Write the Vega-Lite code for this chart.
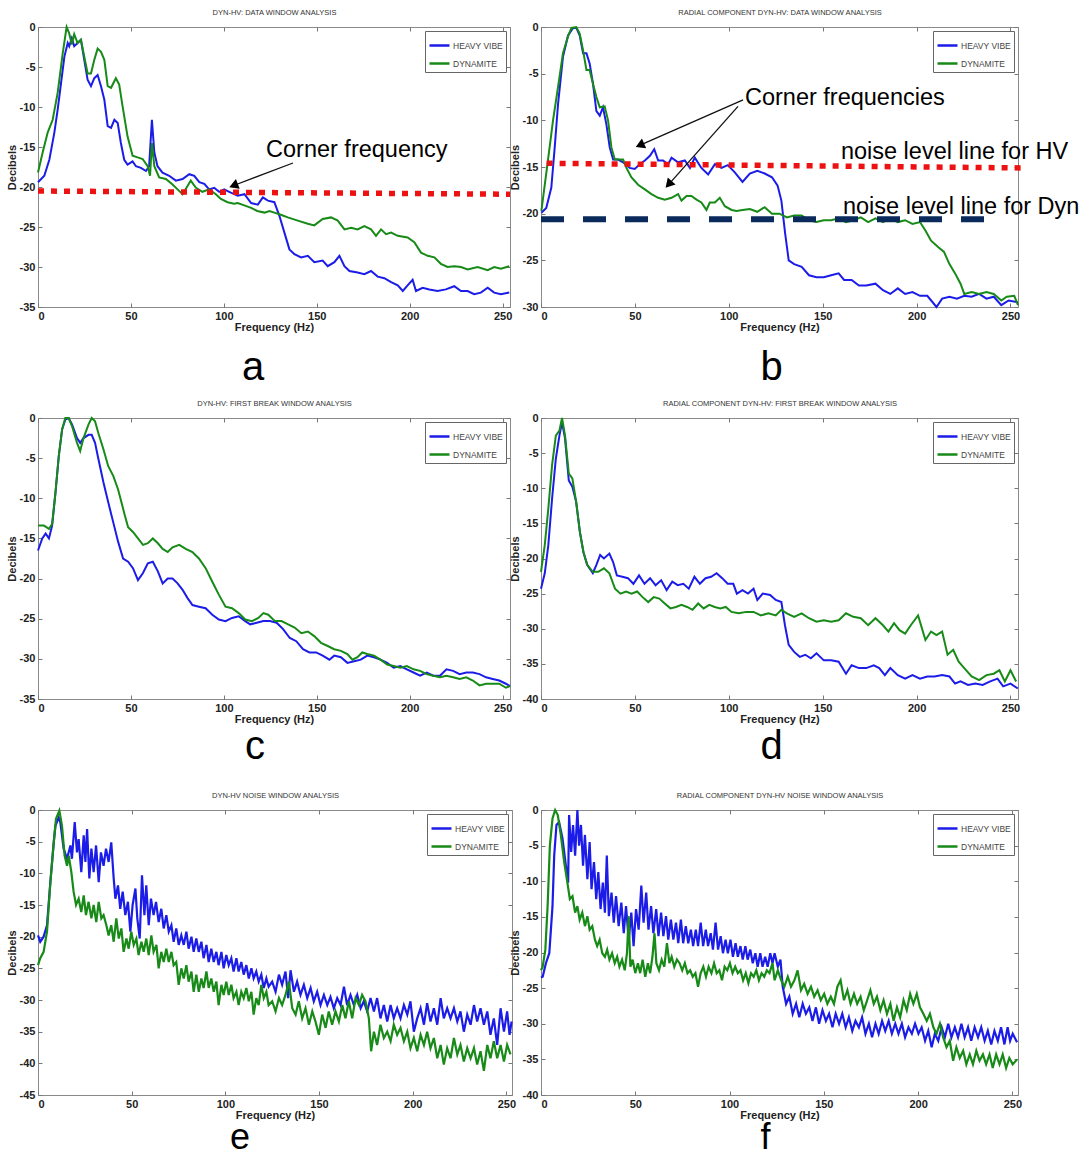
{
"$schema": "https://vega.github.io/schema/vega-lite/v6.json",
"background": "white",
"padding": {"left": 5, "top": 8, "right": 5, "bottom": 0},
"columns": 2,
"spacing": {"row": 111, "column": 29},
"bounds": "flush",
"resolve": {"scale": {"color": "independent"}, "legend": {"color": "independent"}},
"config": {
  "view": {"stroke": "#8a8a8a", "strokeWidth": 1},
  "font": "Liberation Sans",
  "axis": {"domain": false, "grid": false, "ticks": true, "tickSize": -4, "tickColor": "#777", "labelFont": "Liberation Sans", "labelFontSize": 11, "labelFontWeight": "bold", "labelColor": "#222", "labelPadding": 7, "titleFont": "Liberation Sans", "titleFontSize": 11, "titleFontWeight": "bold", "titleColor": "#222"},
  "axisBottom": {"titlePadding": 0},
  "axisLeft": {"titlePadding": 2},
  "axisTop": {"labels": false, "titleFontSize": 7.5, "titleFontWeight": "normal", "titleColor": "#333", "titlePadding": 10},
  "axisRight": {"labels": false},
  "legend": {"orient": "top-right", "offset": 4, "padding": 3, "strokeColor": "#666", "fillColor": "white", "symbolType": "stroke", "symbolSize": 400, "symbolStrokeWidth": 2.5, "labelFontSize": 8.5, "labelFont": "Liberation Sans", "labelColor": "#444", "rowPadding": 1, "labelOffset": 2},
  "title": {"font": "Liberation Sans", "fontSize": 40, "fontWeight": "normal", "color": "#000"}
},
"datasets": {
"a": [
{"s":"HV","f":0,"v":-19.4},{"s":"HV","f":3.4,"v":-18.6},{"s":"HV","f":6.1,"v":-16.6},{"s":"HV","f":8.8,"v":-13.2},{"s":"HV","f":10.6,"v":-10.3},{"s":"HV","f":12.4,"v":-7.0},{"s":"HV","f":14.2,"v":-3.7},{"s":"HV","f":16,"v":-2.0},{"s":"HV","f":16.8,"v":-2.4},{"s":"HV","f":18.2,"v":-1.4},{"s":"HV","f":19.5,"v":-2.4},{"s":"HV","f":21.3,"v":-2.0},{"s":"HV","f":23.1,"v":-1.6},{"s":"HV","f":24.9,"v":-4.1},{"s":"HV","f":26.7,"v":-6.6},{"s":"HV","f":28.5,"v":-7.4},{"s":"HV","f":30.3,"v":-6.4},{"s":"HV","f":32.1,"v":-6.0},{"s":"HV","f":33.9,"v":-7.4},{"s":"HV","f":35.7,"v":-9.1},{"s":"HV","f":37.5,"v":-12.4},{"s":"HV","f":39.3,"v":-12.6},{"s":"HV","f":41.1,"v":-11.6},{"s":"HV","f":42.9,"v":-12.0},{"s":"HV","f":44.6,"v":-14.5},{"s":"HV","f":46.4,"v":-16.6},{"s":"HV","f":48.2,"v":-17.2},{"s":"HV","f":50.9,"v":-16.8},{"s":"HV","f":52.7,"v":-17.4},{"s":"HV","f":55.4,"v":-17.6},{"s":"HV","f":58.1,"v":-18.0},{"s":"HV","f":59.8,"v":-17.4},{"s":"HV","f":61.3,"v":-11.6},{"s":"HV","f":62.6,"v":-15.7},{"s":"HV","f":64.3,"v":-17.4},{"s":"HV","f":67,"v":-18.2},{"s":"HV","f":70.6,"v":-18.6},{"s":"HV","f":74.2,"v":-19.2},{"s":"HV","f":77.8,"v":-19.0},{"s":"HV","f":81.4,"v":-18.4},{"s":"HV","f":84.1,"v":-18.6},{"s":"HV","f":86.8,"v":-19.4},{"s":"HV","f":89.5,"v":-19.6},{"s":"HV","f":92.1,"v":-20.3},{"s":"HV","f":94.8,"v":-20.1},{"s":"HV","f":97.5,"v":-20.6},{"s":"HV","f":100.2,"v":-20.3},{"s":"HV","f":102.9,"v":-20.6},{"s":"HV","f":107.5,"v":-21.1},{"s":"HV","f":111.1,"v":-20.9},{"s":"HV","f":114.7,"v":-22.0},{"s":"HV","f":118.3,"v":-22.2},{"s":"HV","f":121,"v":-21.3},{"s":"HV","f":123.7,"v":-21.7},{"s":"HV","f":127.2,"v":-21.9},{"s":"HV","f":129.9,"v":-23.6},{"s":"HV","f":132.6,"v":-25.7},{"s":"HV","f":135.3,"v":-27.8},{"s":"HV","f":138,"v":-28.4},{"s":"HV","f":141.6,"v":-28.8},{"s":"HV","f":145.2,"v":-28.6},{"s":"HV","f":148.7,"v":-29.4},{"s":"HV","f":153.2,"v":-29.2},{"s":"HV","f":155.9,"v":-29.9},{"s":"HV","f":159.5,"v":-29.4},{"s":"HV","f":162.2,"v":-28.6},{"s":"HV","f":164.9,"v":-29.9},{"s":"HV","f":167.6,"v":-30.5},{"s":"HV","f":172,"v":-30.7},{"s":"HV","f":175.6,"v":-30.9},{"s":"HV","f":179.2,"v":-30.5},{"s":"HV","f":182.8,"v":-31.2},{"s":"HV","f":186.4,"v":-31.4},{"s":"HV","f":190,"v":-31.9},{"s":"HV","f":193.6,"v":-32.3},{"s":"HV","f":196.3,"v":-33.0},{"s":"HV","f":198.9,"v":-32.3},{"s":"HV","f":201.6,"v":-31.6},{"s":"HV","f":203.4,"v":-33.0},{"s":"HV","f":207,"v":-32.6},{"s":"HV","f":210.6,"v":-32.8},{"s":"HV","f":215,"v":-33.0},{"s":"HV","f":219.5,"v":-32.8},{"s":"HV","f":224,"v":-32.4},{"s":"HV","f":227.6,"v":-33.0},{"s":"HV","f":231.2,"v":-33.0},{"s":"HV","f":234.7,"v":-33.4},{"s":"HV","f":238.3,"v":-33.2},{"s":"HV","f":242,"v":-32.6},{"s":"HV","f":245.5,"v":-33.2},{"s":"HV","f":249.1,"v":-33.4},{"s":"HV","f":253.6,"v":-33.2},
{"s":"DYN","f":0,"v":-18.2},{"s":"DYN","f":2.5,"v":-15.7},{"s":"DYN","f":5.2,"v":-13.2},{"s":"DYN","f":7.9,"v":-11.6},{"s":"DYN","f":10.6,"v":-8.2},{"s":"DYN","f":13.3,"v":-3.3},{"s":"DYN","f":15.4,"v":0},{"s":"DYN","f":16.8,"v":-0.8},{"s":"DYN","f":18.2,"v":-2.2},{"s":"DYN","f":19.5,"v":-0.9},{"s":"DYN","f":21.3,"v":-2.0},{"s":"DYN","f":23.1,"v":-1.6},{"s":"DYN","f":24.9,"v":-3.7},{"s":"DYN","f":26.7,"v":-5.8},{"s":"DYN","f":28.5,"v":-5.8},{"s":"DYN","f":30.3,"v":-4.1},{"s":"DYN","f":32.1,"v":-2.7},{"s":"DYN","f":33.9,"v":-3.1},{"s":"DYN","f":35.7,"v":-4.1},{"s":"DYN","f":37.5,"v":-7.4},{"s":"DYN","f":39.3,"v":-7.6},{"s":"DYN","f":41.9,"v":-6.4},{"s":"DYN","f":43.7,"v":-7.2},{"s":"DYN","f":45.5,"v":-9.9},{"s":"DYN","f":48.2,"v":-13.7},{"s":"DYN","f":50.9,"v":-16.1},{"s":"DYN","f":53.6,"v":-16.3},{"s":"DYN","f":56.3,"v":-16.5},{"s":"DYN","f":59,"v":-17.4},{"s":"DYN","f":60.3,"v":-18.6},{"s":"DYN","f":61.3,"v":-14.5},{"s":"DYN","f":62.6,"v":-17.4},{"s":"DYN","f":65.2,"v":-18.8},{"s":"DYN","f":68.8,"v":-19.0},{"s":"DYN","f":72.4,"v":-19.7},{"s":"DYN","f":75.1,"v":-20.3},{"s":"DYN","f":77.8,"v":-20.9},{"s":"DYN","f":80.4,"v":-19.9},{"s":"DYN","f":82.2,"v":-19.2},{"s":"DYN","f":85,"v":-20.1},{"s":"DYN","f":88.5,"v":-20.6},{"s":"DYN","f":92.1,"v":-20.3},{"s":"DYN","f":95.7,"v":-20.9},{"s":"DYN","f":98.4,"v":-21.5},{"s":"DYN","f":102,"v":-21.9},{"s":"DYN","f":105.5,"v":-22.1},{"s":"DYN","f":107.5,"v":-22.0},{"s":"DYN","f":111,"v":-22.3},{"s":"DYN","f":114.7,"v":-22.6},{"s":"DYN","f":118,"v":-23.0},{"s":"DYN","f":121.9,"v":-23.2},{"s":"DYN","f":124.5,"v":-23.0},{"s":"DYN","f":127.2,"v":-23.2},{"s":"DYN","f":131,"v":-23.5},{"s":"DYN","f":134.4,"v":-23.8},{"s":"DYN","f":139.8,"v":-24.2},{"s":"DYN","f":145.2,"v":-24.6},{"s":"DYN","f":148.7,"v":-24.8},{"s":"DYN","f":153.2,"v":-24.0},{"s":"DYN","f":157.7,"v":-23.8},{"s":"DYN","f":161.3,"v":-24.2},{"s":"DYN","f":164.9,"v":-25.3},{"s":"DYN","f":168.5,"v":-25.1},{"s":"DYN","f":172,"v":-25.3},{"s":"DYN","f":175.6,"v":-24.9},{"s":"DYN","f":179.2,"v":-25.3},{"s":"DYN","f":181.9,"v":-26.1},{"s":"DYN","f":184.6,"v":-25.3},{"s":"DYN","f":187.3,"v":-25.9},{"s":"DYN","f":190,"v":-25.7},{"s":"DYN","f":193.6,"v":-26.1},{"s":"DYN","f":198.9,"v":-26.3},{"s":"DYN","f":202.5,"v":-26.9},{"s":"DYN","f":206.1,"v":-28.2},{"s":"DYN","f":209.7,"v":-28.6},{"s":"DYN","f":213.3,"v":-28.8},{"s":"DYN","f":216.8,"v":-29.6},{"s":"DYN","f":220.4,"v":-30.0},{"s":"DYN","f":224,"v":-29.9},{"s":"DYN","f":227.6,"v":-30.0},{"s":"DYN","f":231.2,"v":-30.3},{"s":"DYN","f":236.6,"v":-30.0},{"s":"DYN","f":242,"v":-30.4},{"s":"DYN","f":245.5,"v":-30.0},{"s":"DYN","f":249.1,"v":-30.2},{"s":"DYN","f":253.6,"v":-29.9}
],
"b": [
{"s":"HV","f":0.2,"v":-19.9},{"s":"HV","f":2.8,"v":-19.4},{"s":"HV","f":5.5,"v":-17.2},{"s":"HV","f":7.3,"v":-12.9},{"s":"HV","f":9.1,"v":-8.2},{"s":"HV","f":11.7,"v":-3.2},{"s":"HV","f":14.4,"v":-0.9},{"s":"HV","f":17.1,"v":-0.1},{"s":"HV","f":18.8,"v":-0.1},{"s":"HV","f":20.6,"v":-0.9},{"s":"HV","f":22.4,"v":-2.8},{"s":"HV","f":24.2,"v":-2.8},{"s":"HV","f":25.9,"v":-3.9},{"s":"HV","f":27.7,"v":-6.1},{"s":"HV","f":29.5,"v":-9.0},{"s":"HV","f":31.3,"v":-9.5},{"s":"HV","f":33,"v":-8.6},{"s":"HV","f":34.8,"v":-10.4},{"s":"HV","f":36.6,"v":-12.9},{"s":"HV","f":38.4,"v":-14.2},{"s":"HV","f":41,"v":-14.2},{"s":"HV","f":43.7,"v":-14.5},{"s":"HV","f":47.2,"v":-15.1},{"s":"HV","f":49.9,"v":-15.2},{"s":"HV","f":52.6,"v":-14.7},{"s":"HV","f":55.3,"v":-14.3},{"s":"HV","f":58,"v":-13.8},{"s":"HV","f":60.3,"v":-13.1},{"s":"HV","f":62.4,"v":-14.3},{"s":"HV","f":65,"v":-14.3},{"s":"HV","f":67.7,"v":-14.7},{"s":"HV","f":69.5,"v":-14.0},{"s":"HV","f":73,"v":-14.5},{"s":"HV","f":76.6,"v":-14.3},{"s":"HV","f":79.3,"v":-15.1},{"s":"HV","f":81.9,"v":-14.0},{"s":"HV","f":85.4,"v":-15.1},{"s":"HV","f":89,"v":-15.8},{"s":"HV","f":92.6,"v":-14.7},{"s":"HV","f":96.1,"v":-15.1},{"s":"HV","f":99.5,"v":-14.8},{"s":"HV","f":103.3,"v":-15.6},{"s":"HV","f":107.3,"v":-16.6},{"s":"HV","f":111.2,"v":-15.7},{"s":"HV","f":115.2,"v":-15.4},{"s":"HV","f":119.1,"v":-15.7},{"s":"HV","f":123,"v":-16.1},{"s":"HV","f":126,"v":-17.0},{"s":"HV","f":128,"v":-18.6},{"s":"HV","f":130,"v":-22.1},{"s":"HV","f":131.9,"v":-25.0},{"s":"HV","f":134.8,"v":-25.4},{"s":"HV","f":138.8,"v":-25.7},{"s":"HV","f":142.7,"v":-26.6},{"s":"HV","f":146.7,"v":-26.8},{"s":"HV","f":150.6,"v":-26.8},{"s":"HV","f":154.5,"v":-26.6},{"s":"HV","f":158.5,"v":-26.4},{"s":"HV","f":161.4,"v":-27.1},{"s":"HV","f":165.4,"v":-27.1},{"s":"HV","f":169.3,"v":-27.7},{"s":"HV","f":173.2,"v":-27.7},{"s":"HV","f":178.1,"v":-27.5},{"s":"HV","f":182.1,"v":-28.2},{"s":"HV","f":186,"v":-28.6},{"s":"HV","f":190,"v":-28.0},{"s":"HV","f":193.9,"v":-28.6},{"s":"HV","f":197.8,"v":-28.4},{"s":"HV","f":201.8,"v":-28.8},{"s":"HV","f":205.7,"v":-28.8},{"s":"HV","f":210.6,"v":-30.0},{"s":"HV","f":213.6,"v":-29.1},{"s":"HV","f":217.5,"v":-28.9},{"s":"HV","f":221.5,"v":-29.1},{"s":"HV","f":225.4,"v":-28.8},{"s":"HV","f":229.3,"v":-28.9},{"s":"HV","f":233.3,"v":-28.6},{"s":"HV","f":237.2,"v":-29.1},{"s":"HV","f":241.1,"v":-28.9},{"s":"HV","f":245.1,"v":-29.8},{"s":"HV","f":249,"v":-29.3},{"s":"HV","f":254,"v":-29.5},
{"s":"DYN","f":0.2,"v":-19.7},{"s":"DYN","f":3.7,"v":-14.3},{"s":"DYN","f":6.4,"v":-10.0},{"s":"DYN","f":9.1,"v":-6.4},{"s":"DYN","f":11.7,"v":-2.8},{"s":"DYN","f":14.4,"v":-1.0},{"s":"DYN","f":16.2,"v":-0.1},{"s":"DYN","f":18.8,"v":0},{"s":"DYN","f":20.6,"v":-0.7},{"s":"DYN","f":22.4,"v":-2.5},{"s":"DYN","f":24.2,"v":-4.6},{"s":"DYN","f":25.9,"v":-4.6},{"s":"DYN","f":27.7,"v":-6.1},{"s":"DYN","f":29.5,"v":-7.5},{"s":"DYN","f":31.3,"v":-8.6},{"s":"DYN","f":33.9,"v":-8.5},{"s":"DYN","f":35.7,"v":-10.0},{"s":"DYN","f":37.5,"v":-12.9},{"s":"DYN","f":39.3,"v":-14.2},{"s":"DYN","f":41.9,"v":-14.2},{"s":"DYN","f":43.7,"v":-14.2},{"s":"DYN","f":45.5,"v":-15.1},{"s":"DYN","f":48.1,"v":-16.1},{"s":"DYN","f":51.7,"v":-16.9},{"s":"DYN","f":55.3,"v":-17.4},{"s":"DYN","f":58.8,"v":-17.9},{"s":"DYN","f":62.4,"v":-18.3},{"s":"DYN","f":65.9,"v":-18.5},{"s":"DYN","f":69.5,"v":-18.3},{"s":"DYN","f":73,"v":-17.9},{"s":"DYN","f":74.8,"v":-18.6},{"s":"DYN","f":77.5,"v":-18.1},{"s":"DYN","f":80.1,"v":-18.1},{"s":"DYN","f":82.8,"v":-18.5},{"s":"DYN","f":85.4,"v":-18.8},{"s":"DYN","f":88.1,"v":-19.6},{"s":"DYN","f":89.9,"v":-18.8},{"s":"DYN","f":92.6,"v":-18.8},{"s":"DYN","f":95.2,"v":-18.3},{"s":"DYN","f":97.9,"v":-19.2},{"s":"DYN","f":101.5,"v":-19.6},{"s":"DYN","f":104.1,"v":-19.7},{"s":"DYN","f":107.3,"v":-19.6},{"s":"DYN","f":111.2,"v":-19.5},{"s":"DYN","f":115.2,"v":-19.8},{"s":"DYN","f":119.1,"v":-19.3},{"s":"DYN","f":123,"v":-20.0},{"s":"DYN","f":127,"v":-20.0},{"s":"DYN","f":130.9,"v":-20.4},{"s":"DYN","f":134.8,"v":-20.2},{"s":"DYN","f":138.8,"v":-20.2},{"s":"DYN","f":142.7,"v":-20.7},{"s":"DYN","f":146.7,"v":-20.9},{"s":"DYN","f":150.6,"v":-20.7},{"s":"DYN","f":154.5,"v":-20.7},{"s":"DYN","f":158.5,"v":-20.5},{"s":"DYN","f":162.4,"v":-20.9},{"s":"DYN","f":166.3,"v":-20.7},{"s":"DYN","f":170.3,"v":-20.4},{"s":"DYN","f":174.2,"v":-20.9},{"s":"DYN","f":178.1,"v":-20.5},{"s":"DYN","f":182.1,"v":-20.9},{"s":"DYN","f":186,"v":-20.5},{"s":"DYN","f":190,"v":-20.9},{"s":"DYN","f":193.9,"v":-20.7},{"s":"DYN","f":197.8,"v":-21.1},{"s":"DYN","f":201.8,"v":-20.9},{"s":"DYN","f":204.7,"v":-21.8},{"s":"DYN","f":207.7,"v":-22.9},{"s":"DYN","f":211.6,"v":-23.6},{"s":"DYN","f":214.6,"v":-24.1},{"s":"DYN","f":217.5,"v":-25.4},{"s":"DYN","f":220.5,"v":-26.4},{"s":"DYN","f":223.4,"v":-27.5},{"s":"DYN","f":225.4,"v":-28.6},{"s":"DYN","f":229.3,"v":-28.4},{"s":"DYN","f":233.3,"v":-28.6},{"s":"DYN","f":237.2,"v":-28.4},{"s":"DYN","f":241.1,"v":-28.6},{"s":"DYN","f":245.1,"v":-29.3},{"s":"DYN","f":248,"v":-28.9},{"s":"DYN","f":252,"v":-28.8},{"s":"DYN","f":254,"v":-29.8}
],
"c": [
{"s":"HV","f":0,"v":-16.5},{"s":"HV","f":2.3,"v":-15.0},{"s":"HV","f":4.1,"v":-14.4},{"s":"HV","f":5.9,"v":-15.0},{"s":"HV","f":7.6,"v":-13.4},{"s":"HV","f":9.4,"v":-9.3},{"s":"HV","f":11.2,"v":-4.7},{"s":"HV","f":13,"v":-1.4},{"s":"HV","f":14.7,"v":-0.2},{"s":"HV","f":16.5,"v":0},{"s":"HV","f":18.3,"v":-0.8},{"s":"HV","f":21,"v":-2.5},{"s":"HV","f":22.7,"v":-3.1},{"s":"HV","f":24.5,"v":-2.5},{"s":"HV","f":27.2,"v":-2.1},{"s":"HV","f":28.9,"v":-2.1},{"s":"HV","f":30.7,"v":-3.1},{"s":"HV","f":32.5,"v":-5.1},{"s":"HV","f":35.2,"v":-8.0},{"s":"HV","f":37.8,"v":-10.5},{"s":"HV","f":40.5,"v":-13.0},{"s":"HV","f":43.1,"v":-15.4},{"s":"HV","f":45.8,"v":-17.5},{"s":"HV","f":48.5,"v":-17.9},{"s":"HV","f":51.1,"v":-18.7},{"s":"HV","f":53.8,"v":-20.2},{"s":"HV","f":56.5,"v":-19.3},{"s":"HV","f":59.1,"v":-18.1},{"s":"HV","f":61.8,"v":-17.9},{"s":"HV","f":64.5,"v":-19.1},{"s":"HV","f":67.1,"v":-20.6},{"s":"HV","f":69.8,"v":-20.0},{"s":"HV","f":72.4,"v":-20.0},{"s":"HV","f":75.1,"v":-20.6},{"s":"HV","f":77.8,"v":-21.4},{"s":"HV","f":80.4,"v":-22.4},{"s":"HV","f":83.1,"v":-23.3},{"s":"HV","f":86.6,"v":-23.5},{"s":"HV","f":90.2,"v":-23.7},{"s":"HV","f":93.8,"v":-24.5},{"s":"HV","f":97.3,"v":-25.1},{"s":"HV","f":100.9,"v":-25.3},{"s":"HV","f":104.4,"v":-24.9},{"s":"HV","f":108,"v":-24.7},{"s":"HV","f":111.5,"v":-25.3},{"s":"HV","f":114.2,"v":-25.7},{"s":"HV","f":117.7,"v":-25.5},{"s":"HV","f":121.3,"v":-25.3},{"s":"HV","f":124.8,"v":-25.3},{"s":"HV","f":128.4,"v":-25.5},{"s":"HV","f":131.9,"v":-26.3},{"s":"HV","f":135.5,"v":-27.4},{"s":"HV","f":139,"v":-27.8},{"s":"HV","f":142.6,"v":-28.8},{"s":"HV","f":146.1,"v":-29.2},{"s":"HV","f":149.7,"v":-29.2},{"s":"HV","f":153.2,"v":-29.6},{"s":"HV","f":156.8,"v":-30.1},{"s":"HV","f":159.4,"v":-29.6},{"s":"HV","f":163,"v":-29.8},{"s":"HV","f":166.5,"v":-30.5},{"s":"HV","f":170.1,"v":-30.3},{"s":"HV","f":173.7,"v":-30.1},{"s":"HV","f":177.2,"v":-29.6},{"s":"HV","f":180.8,"v":-29.8},{"s":"HV","f":184.3,"v":-30.1},{"s":"HV","f":187.9,"v":-30.5},{"s":"HV","f":191.4,"v":-31.1},{"s":"HV","f":195,"v":-30.9},{"s":"HV","f":198.5,"v":-31.3},{"s":"HV","f":202.1,"v":-31.7},{"s":"HV","f":205.6,"v":-32.1},{"s":"HV","f":209.2,"v":-31.7},{"s":"HV","f":212.7,"v":-32.1},{"s":"HV","f":216.3,"v":-32.1},{"s":"HV","f":219.8,"v":-31.3},{"s":"HV","f":223.4,"v":-31.5},{"s":"HV","f":226.9,"v":-31.9},{"s":"HV","f":230.5,"v":-31.7},{"s":"HV","f":234,"v":-31.7},{"s":"HV","f":237.6,"v":-31.9},{"s":"HV","f":241.1,"v":-32.3},{"s":"HV","f":244.7,"v":-32.5},{"s":"HV","f":248.2,"v":-32.7},{"s":"HV","f":251.8,"v":-33.1},{"s":"HV","f":254,"v":-33.4},
{"s":"DYN","f":0,"v":-13.4},{"s":"DYN","f":3.2,"v":-13.4},{"s":"DYN","f":5.9,"v":-13.8},{"s":"DYN","f":7.6,"v":-13.2},{"s":"DYN","f":9.4,"v":-9.3},{"s":"DYN","f":11.2,"v":-4.7},{"s":"DYN","f":13,"v":-1.4},{"s":"DYN","f":14.7,"v":0},{"s":"DYN","f":16.5,"v":0},{"s":"DYN","f":18.3,"v":-1.0},{"s":"DYN","f":21,"v":-3.1},{"s":"DYN","f":22.7,"v":-4.1},{"s":"DYN","f":24.5,"v":-2.5},{"s":"DYN","f":27.2,"v":-0.8},{"s":"DYN","f":28.9,"v":0},{"s":"DYN","f":30.7,"v":-0.4},{"s":"DYN","f":32.5,"v":-1.9},{"s":"DYN","f":35.2,"v":-3.9},{"s":"DYN","f":37.8,"v":-6.0},{"s":"DYN","f":40.5,"v":-7.2},{"s":"DYN","f":43.1,"v":-8.9},{"s":"DYN","f":44.9,"v":-10.5},{"s":"DYN","f":46.7,"v":-12.1},{"s":"DYN","f":48.5,"v":-13.6},{"s":"DYN","f":51.1,"v":-14.2},{"s":"DYN","f":53.8,"v":-15.0},{"s":"DYN","f":56.5,"v":-15.8},{"s":"DYN","f":59.1,"v":-15.6},{"s":"DYN","f":61.8,"v":-15.0},{"s":"DYN","f":64.5,"v":-15.6},{"s":"DYN","f":67.1,"v":-16.3},{"s":"DYN","f":69.8,"v":-16.7},{"s":"DYN","f":72.4,"v":-16.1},{"s":"DYN","f":76,"v":-15.8},{"s":"DYN","f":79.5,"v":-16.3},{"s":"DYN","f":83.1,"v":-16.7},{"s":"DYN","f":86.6,"v":-17.5},{"s":"DYN","f":90.2,"v":-18.7},{"s":"DYN","f":93.8,"v":-20.4},{"s":"DYN","f":97.3,"v":-22.0},{"s":"DYN","f":100.9,"v":-23.5},{"s":"DYN","f":104.4,"v":-23.7},{"s":"DYN","f":108,"v":-24.3},{"s":"DYN","f":111.5,"v":-25.1},{"s":"DYN","f":115.1,"v":-25.3},{"s":"DYN","f":118.6,"v":-24.9},{"s":"DYN","f":121.3,"v":-24.3},{"s":"DYN","f":123.9,"v":-24.5},{"s":"DYN","f":127.5,"v":-25.3},{"s":"DYN","f":131,"v":-25.3},{"s":"DYN","f":134.6,"v":-25.7},{"s":"DYN","f":138.1,"v":-26.1},{"s":"DYN","f":141.7,"v":-26.8},{"s":"DYN","f":145.2,"v":-26.6},{"s":"DYN","f":148.8,"v":-27.2},{"s":"DYN","f":152.3,"v":-28.0},{"s":"DYN","f":155.9,"v":-28.4},{"s":"DYN","f":159.4,"v":-28.8},{"s":"DYN","f":163,"v":-29.0},{"s":"DYN","f":166.5,"v":-29.4},{"s":"DYN","f":169.2,"v":-30.1},{"s":"DYN","f":171.9,"v":-29.8},{"s":"DYN","f":174.5,"v":-29.2},{"s":"DYN","f":177.2,"v":-29.4},{"s":"DYN","f":180.8,"v":-29.6},{"s":"DYN","f":184.3,"v":-30.1},{"s":"DYN","f":187.9,"v":-30.7},{"s":"DYN","f":191.4,"v":-30.9},{"s":"DYN","f":195,"v":-31.1},{"s":"DYN","f":198.5,"v":-30.9},{"s":"DYN","f":202.1,"v":-31.3},{"s":"DYN","f":205.6,"v":-31.5},{"s":"DYN","f":209.2,"v":-31.9},{"s":"DYN","f":212.7,"v":-32.1},{"s":"DYN","f":216.3,"v":-32.3},{"s":"DYN","f":219.8,"v":-32.1},{"s":"DYN","f":223.4,"v":-32.3},{"s":"DYN","f":226.9,"v":-32.5},{"s":"DYN","f":230.5,"v":-32.3},{"s":"DYN","f":234,"v":-32.7},{"s":"DYN","f":237.6,"v":-33.3},{"s":"DYN","f":241.1,"v":-33.1},{"s":"DYN","f":244.7,"v":-33.1},{"s":"DYN","f":248.2,"v":-33.1},{"s":"DYN","f":251.8,"v":-33.6},{"s":"DYN","f":254,"v":-33.4}
],
"d": [
{"s":"HV","f":0,"v":-24.3},{"s":"HV","f":2,"v":-22.1},{"s":"HV","f":3.9,"v":-18.1},{"s":"HV","f":5.9,"v":-11.5},{"s":"HV","f":7.9,"v":-5.8},{"s":"HV","f":9.8,"v":-2.5},{"s":"HV","f":11.2,"v":-0.6},{"s":"HV","f":12.8,"v":-2.9},{"s":"HV","f":14.8,"v":-8.9},{"s":"HV","f":16.7,"v":-9.8},{"s":"HV","f":18.7,"v":-11.9},{"s":"HV","f":20.7,"v":-16.2},{"s":"HV","f":22.6,"v":-19.1},{"s":"HV","f":24.6,"v":-20.9},{"s":"HV","f":27.6,"v":-22.1},{"s":"HV","f":29.5,"v":-20.9},{"s":"HV","f":31.5,"v":-19.5},{"s":"HV","f":33.5,"v":-20.0},{"s":"HV","f":36.4,"v":-19.3},{"s":"HV","f":38.4,"v":-20.5},{"s":"HV","f":40.4,"v":-22.4},{"s":"HV","f":43.3,"v":-22.6},{"s":"HV","f":46.3,"v":-22.8},{"s":"HV","f":49.2,"v":-23.6},{"s":"HV","f":52.2,"v":-22.4},{"s":"HV","f":55.1,"v":-23.6},{"s":"HV","f":58.1,"v":-22.8},{"s":"HV","f":61,"v":-23.8},{"s":"HV","f":64,"v":-23.1},{"s":"HV","f":66.9,"v":-24.5},{"s":"HV","f":69.9,"v":-23.3},{"s":"HV","f":72.8,"v":-23.8},{"s":"HV","f":75.8,"v":-23.6},{"s":"HV","f":78.7,"v":-24.3},{"s":"HV","f":81.7,"v":-22.6},{"s":"HV","f":84.6,"v":-23.6},{"s":"HV","f":87.6,"v":-22.8},{"s":"HV","f":90.6,"v":-22.6},{"s":"HV","f":93.5,"v":-22.1},{"s":"HV","f":96.5,"v":-22.8},{"s":"HV","f":99.4,"v":-23.6},{"s":"HV","f":102.4,"v":-23.6},{"s":"HV","f":104.3,"v":-25.0},{"s":"HV","f":107.3,"v":-24.5},{"s":"HV","f":110.2,"v":-25.0},{"s":"HV","f":113.2,"v":-24.3},{"s":"HV","f":115.2,"v":-25.9},{"s":"HV","f":118.1,"v":-25.0},{"s":"HV","f":122,"v":-25.2},{"s":"HV","f":125,"v":-25.9},{"s":"HV","f":128,"v":-26.2},{"s":"HV","f":129.9,"v":-29.5},{"s":"HV","f":131.9,"v":-32.3},{"s":"HV","f":134.8,"v":-33.3},{"s":"HV","f":137.8,"v":-34.0},{"s":"HV","f":140.7,"v":-33.7},{"s":"HV","f":143.7,"v":-34.2},{"s":"HV","f":146.7,"v":-33.5},{"s":"HV","f":150.6,"v":-34.5},{"s":"HV","f":154.5,"v":-34.5},{"s":"HV","f":158.5,"v":-34.7},{"s":"HV","f":162.4,"v":-36.4},{"s":"HV","f":165.4,"v":-35.2},{"s":"HV","f":169.3,"v":-35.6},{"s":"HV","f":173.2,"v":-35.6},{"s":"HV","f":177.2,"v":-35.2},{"s":"HV","f":180.1,"v":-35.6},{"s":"HV","f":183.1,"v":-36.6},{"s":"HV","f":186,"v":-35.6},{"s":"HV","f":190,"v":-36.6},{"s":"HV","f":193.9,"v":-37.1},{"s":"HV","f":197.8,"v":-36.6},{"s":"HV","f":201.8,"v":-37.1},{"s":"HV","f":205.7,"v":-36.8},{"s":"HV","f":209.6,"v":-36.8},{"s":"HV","f":213.6,"v":-36.6},{"s":"HV","f":217.5,"v":-36.8},{"s":"HV","f":220.5,"v":-37.8},{"s":"HV","f":223.4,"v":-37.5},{"s":"HV","f":227.4,"v":-38.0},{"s":"HV","f":231.3,"v":-37.8},{"s":"HV","f":235.2,"v":-38.0},{"s":"HV","f":239.2,"v":-37.5},{"s":"HV","f":243.1,"v":-37.1},{"s":"HV","f":246.1,"v":-38.2},{"s":"HV","f":250,"v":-37.8},{"s":"HV","f":253.9,"v":-38.5},
{"s":"DYN","f":0,"v":-21.9},{"s":"DYN","f":2,"v":-18.1},{"s":"DYN","f":3.9,"v":-12.9},{"s":"DYN","f":5.9,"v":-6.7},{"s":"DYN","f":7.9,"v":-2.5},{"s":"DYN","f":9.8,"v":-1.8},{"s":"DYN","f":11.2,"v":0},{"s":"DYN","f":12.8,"v":-2.5},{"s":"DYN","f":14.8,"v":-7.9},{"s":"DYN","f":16.7,"v":-8.6},{"s":"DYN","f":18.7,"v":-11.9},{"s":"DYN","f":20.7,"v":-16.2},{"s":"DYN","f":22.6,"v":-19.1},{"s":"DYN","f":24.6,"v":-20.9},{"s":"DYN","f":27.6,"v":-21.9},{"s":"DYN","f":30.5,"v":-21.9},{"s":"DYN","f":33.5,"v":-21.4},{"s":"DYN","f":36.4,"v":-22.1},{"s":"DYN","f":39.4,"v":-24.3},{"s":"DYN","f":42.3,"v":-25.0},{"s":"DYN","f":45.3,"v":-24.7},{"s":"DYN","f":48.2,"v":-25.0},{"s":"DYN","f":51.2,"v":-24.7},{"s":"DYN","f":54.1,"v":-25.5},{"s":"DYN","f":57.1,"v":-26.2},{"s":"DYN","f":60,"v":-25.5},{"s":"DYN","f":63,"v":-25.7},{"s":"DYN","f":65.9,"v":-26.4},{"s":"DYN","f":68.9,"v":-27.1},{"s":"DYN","f":71.9,"v":-26.9},{"s":"DYN","f":74.8,"v":-26.6},{"s":"DYN","f":77.8,"v":-26.9},{"s":"DYN","f":80.7,"v":-27.3},{"s":"DYN","f":83.7,"v":-26.4},{"s":"DYN","f":86.6,"v":-27.1},{"s":"DYN","f":89.6,"v":-26.6},{"s":"DYN","f":92.5,"v":-26.9},{"s":"DYN","f":95.5,"v":-27.1},{"s":"DYN","f":98.4,"v":-26.9},{"s":"DYN","f":101.4,"v":-27.6},{"s":"DYN","f":105.3,"v":-27.8},{"s":"DYN","f":109.3,"v":-27.6},{"s":"DYN","f":113.2,"v":-27.6},{"s":"DYN","f":117.1,"v":-28.1},{"s":"DYN","f":121.1,"v":-27.8},{"s":"DYN","f":125,"v":-28.1},{"s":"DYN","f":128,"v":-27.3},{"s":"DYN","f":130.9,"v":-27.8},{"s":"DYN","f":134.8,"v":-28.3},{"s":"DYN","f":138.8,"v":-27.8},{"s":"DYN","f":142.7,"v":-28.5},{"s":"DYN","f":146.7,"v":-29.0},{"s":"DYN","f":150.6,"v":-28.8},{"s":"DYN","f":154.5,"v":-29.0},{"s":"DYN","f":158.5,"v":-28.8},{"s":"DYN","f":162.4,"v":-27.8},{"s":"DYN","f":166.3,"v":-28.3},{"s":"DYN","f":170.3,"v":-28.5},{"s":"DYN","f":174.2,"v":-29.5},{"s":"DYN","f":178.1,"v":-28.5},{"s":"DYN","f":182.1,"v":-29.5},{"s":"DYN","f":185,"v":-30.4},{"s":"DYN","f":188,"v":-29.2},{"s":"DYN","f":190.9,"v":-30.2},{"s":"DYN","f":193.9,"v":-30.7},{"s":"DYN","f":196.9,"v":-29.5},{"s":"DYN","f":200.8,"v":-28.1},{"s":"DYN","f":204.7,"v":-31.6},{"s":"DYN","f":207.7,"v":-30.4},{"s":"DYN","f":210.6,"v":-30.9},{"s":"DYN","f":213.6,"v":-30.4},{"s":"DYN","f":216.5,"v":-33.7},{"s":"DYN","f":219.5,"v":-33.0},{"s":"DYN","f":222.4,"v":-34.7},{"s":"DYN","f":225.4,"v":-35.6},{"s":"DYN","f":229.3,"v":-36.8},{"s":"DYN","f":233.3,"v":-37.3},{"s":"DYN","f":237.2,"v":-36.6},{"s":"DYN","f":241.1,"v":-36.4},{"s":"DYN","f":244.1,"v":-35.9},{"s":"DYN","f":247,"v":-37.5},{"s":"DYN","f":250,"v":-35.9},{"s":"DYN","f":253,"v":-37.5}
],
"e": [
{"s":"HV","f":0,"v":-19.8},{"s":"HV","f":1.2,"v":-20.8},{"s":"HV","f":3,"v":-20},{"s":"HV","f":4.8,"v":-18.2},{"s":"HV","f":6.6,"v":-11.4},{"s":"HV","f":8.4,"v":-5.1},{"s":"HV","f":9.3,"v":-2.5},{"s":"HV","f":11,"v":-1.2},{"s":"HV","f":11.9,"v":-1.9},{"s":"HV","f":13.7,"v":-6.1},{"s":"HV","f":15.5,"v":-7.7},{"s":"HV","f":17.3,"v":-5.6},{"s":"HV","f":18.1,"v":-7.7},{"s":"HV","f":19.6,"v":-1.9},{"s":"HV","f":20.8,"v":-6.7},{"s":"HV","f":21.7,"v":-4.6},{"s":"HV","f":23.1,"v":-9.8},{"s":"HV","f":24.4,"v":-4.0},{"s":"HV","f":25.3,"v":-8.2},{"s":"HV","f":26.2,"v":-3.0},{"s":"HV","f":27.4,"v":-10.8},{"s":"HV","f":28.5,"v":-6.1},{"s":"HV","f":29.7,"v":-9.8},{"s":"HV","f":31,"v":-5.6},{"s":"HV","f":32.4,"v":-11.4},{"s":"HV","f":33.6,"v":-6.7},{"s":"HV","f":35,"v":-8.8},{"s":"HV","f":36.3,"v":-6.1},{"s":"HV","f":37.7,"v":-8.2},{"s":"HV","f":39.1,"v":-5.1},{"s":"HV","f":40.4,"v":-10.8},{"s":"HV","f":41.3,"v":-14.0},{"s":"HV","f":42.7,"v":-11.9},{"s":"HV","f":43.9,"v":-15.6},{"s":"HV","f":45.2,"v":-12.9},{"s":"HV","f":46.6,"v":-16.6},{"s":"HV","f":48,"v":-14.5},{"s":"HV","f":49.3,"v":-19.2},{"s":"HV","f":50.5,"v":-15.0},{"s":"HV","f":52,"v":-12.4},{"s":"HV","f":53,"v":-17.1},{"s":"HV","f":54.3,"v":-20.3},{"s":"HV","f":55.5,"v":-10.3},{"s":"HV","f":56.8,"v":-16.6},{"s":"HV","f":57.8,"v":-11.9},{"s":"HV","f":59.1,"v":-18.2},{"s":"HV","f":60.3,"v":-14.0},{"s":"HV","f":61.7,"v":-16.6},{"s":"HV","f":63,"v":-14.5},{"s":"HV","f":64.4,"v":-17.7},{"s":"HV","f":65.8,"v":-15.6},{"s":"HV","f":67.1,"v":-18.7},{"s":"HV","f":68.5,"v":-16.6},{"s":"HV","f":69.8,"v":-19.2},{"s":"HV","f":71.2,"v":-18.2},{"s":"HV","f":72.4,"v":-20.8},{"s":"HV","f":73.8,"v":-18.7},{"s":"HV","f":75.1,"v":-21.3},{"s":"HV","f":76.5,"v":-19.8},{"s":"HV","f":77.8,"v":-21.3},{"s":"HV","f":79.2,"v":-19.2},{"s":"HV","f":80.4,"v":-21.9},{"s":"HV","f":81.9,"v":-20.0},{"s":"HV","f":83.1,"v":-22.4},{"s":"HV","f":84.5,"v":-20.3},{"s":"HV","f":85.8,"v":-22.4},{"s":"HV","f":87.2,"v":-20.8},{"s":"HV","f":88.4,"v":-23.4},{"s":"HV","f":89.9,"v":-21.3},{"s":"HV","f":91.1,"v":-24.0},{"s":"HV","f":92.5,"v":-21.9},{"s":"HV","f":93.8,"v":-24.0},{"s":"HV","f":95.2,"v":-22.4},{"s":"HV","f":96.4,"v":-24.5},{"s":"HV","f":97.9,"v":-22.4},{"s":"HV","f":99.1,"v":-25.0},{"s":"HV","f":100.5,"v":-22.9},{"s":"HV","f":101.8,"v":-24.5},{"s":"HV","f":103.2,"v":-23.4},{"s":"HV","f":104.4,"v":-25.5},{"s":"HV","f":105.9,"v":-23.4},{"s":"HV","f":107.1,"v":-25.5},{"s":"HV","f":108.5,"v":-24.0},{"s":"HV","f":109.8,"v":-26.0},{"s":"HV","f":111.2,"v":-24.5},{"s":"HV","f":112.5,"v":-26.6},{"s":"HV","f":113.9,"v":-25.0},{"s":"HV","f":115.1,"v":-26.6},{"s":"HV","f":116.5,"v":-25.5},{"s":"HV","f":117.8,"v":-27.1},{"s":"HV","f":119.2,"v":-26.0},{"s":"HV","f":120.5,"v":-28.1},{"s":"HV","f":121.9,"v":-26.6},{"s":"HV","f":123.1,"v":-27.9},{"s":"HV","f":125,"v":-27.1},{"s":"HV","f":126.8,"v":-28.7},{"s":"HV","f":128.6,"v":-26.0},{"s":"HV","f":130.3,"v":-27.6},{"s":"HV","f":132.1,"v":-25.5},{"s":"HV","f":133.5,"v":-29.7},{"s":"HV","f":134.8,"v":-25.3},{"s":"HV","f":136.6,"v":-28.7},{"s":"HV","f":138.3,"v":-27.1},{"s":"HV","f":140.1,"v":-29.2},{"s":"HV","f":141.9,"v":-27.6},{"s":"HV","f":143.7,"v":-29.7},{"s":"HV","f":145.5,"v":-28.1},{"s":"HV","f":147.2,"v":-30.2},{"s":"HV","f":149,"v":-28.7},{"s":"HV","f":150.8,"v":-30.8},{"s":"HV","f":152.6,"v":-29.2},{"s":"HV","f":154.4,"v":-30.8},{"s":"HV","f":156.1,"v":-29.5},{"s":"HV","f":157.9,"v":-31.3},{"s":"HV","f":159.7,"v":-29.7},{"s":"HV","f":161.5,"v":-30.8},{"s":"HV","f":163.3,"v":-27.9},{"s":"HV","f":165,"v":-30.8},{"s":"HV","f":166.8,"v":-29.2},{"s":"HV","f":168.6,"v":-30.8},{"s":"HV","f":170.4,"v":-29.2},{"s":"HV","f":172.2,"v":-31.3},{"s":"HV","f":173.9,"v":-30.2},{"s":"HV","f":175.7,"v":-31.8},{"s":"HV","f":177.5,"v":-29.7},{"s":"HV","f":179.3,"v":-31.8},{"s":"HV","f":181,"v":-29.7},{"s":"HV","f":182.8,"v":-32.9},{"s":"HV","f":184.6,"v":-30.8},{"s":"HV","f":186.4,"v":-33.4},{"s":"HV","f":188.2,"v":-30.8},{"s":"HV","f":189.9,"v":-32.9},{"s":"HV","f":191.7,"v":-31.3},{"s":"HV","f":193.5,"v":-32.9},{"s":"HV","f":195.3,"v":-30.8},{"s":"HV","f":197.1,"v":-32.3},{"s":"HV","f":198.8,"v":-30.2},{"s":"HV","f":200.6,"v":-35.0},{"s":"HV","f":202.4,"v":-32.9},{"s":"HV","f":204.2,"v":-31.3},{"s":"HV","f":206,"v":-33.9},{"s":"HV","f":207.7,"v":-30.5},{"s":"HV","f":209.5,"v":-33.4},{"s":"HV","f":211.3,"v":-31.3},{"s":"HV","f":213.1,"v":-33.9},{"s":"HV","f":214.9,"v":-29.7},{"s":"HV","f":216.6,"v":-32.9},{"s":"HV","f":218.4,"v":-31.3},{"s":"HV","f":220.2,"v":-32.9},{"s":"HV","f":222,"v":-31.3},{"s":"HV","f":223.8,"v":-33.4},{"s":"HV","f":225.5,"v":-31.8},{"s":"HV","f":227.3,"v":-35.0},{"s":"HV","f":229.1,"v":-32.3},{"s":"HV","f":230.9,"v":-33.9},{"s":"HV","f":232.7,"v":-30.8},{"s":"HV","f":234.4,"v":-33.4},{"s":"HV","f":236.2,"v":-31.3},{"s":"HV","f":238,"v":-33.9},{"s":"HV","f":239.8,"v":-31.8},{"s":"HV","f":241.5,"v":-35.5},{"s":"HV","f":243.3,"v":-32.9},{"s":"HV","f":245.1,"v":-37.1},{"s":"HV","f":246.9,"v":-31.3},{"s":"HV","f":248.7,"v":-35.0},{"s":"HV","f":250.4,"v":-31.8},{"s":"HV","f":251.7,"v":-35.5},{"s":"HV","f":252.8,"v":-33.4},
{"s":"DYN","f":0,"v":-24.5},{"s":"DYN","f":1.2,"v":-23.4},{"s":"DYN","f":3,"v":-22.4},{"s":"DYN","f":4.8,"v":-19.2},{"s":"DYN","f":6.6,"v":-11.4},{"s":"DYN","f":8.4,"v":-5.1},{"s":"DYN","f":9.6,"v":-1.4},{"s":"DYN","f":11.4,"v":-0.1},{"s":"DYN","f":12.8,"v":-2.5},{"s":"DYN","f":14.2,"v":-7.2},{"s":"DYN","f":15.5,"v":-8.8},{"s":"DYN","f":16.4,"v":-7.2},{"s":"DYN","f":17.8,"v":-9.8},{"s":"DYN","f":19,"v":-12.9},{"s":"DYN","f":20.3,"v":-15.0},{"s":"DYN","f":21.7,"v":-14.0},{"s":"DYN","f":23.1,"v":-16.1},{"s":"DYN","f":24.4,"v":-13.5},{"s":"DYN","f":25.6,"v":-16.6},{"s":"DYN","f":27,"v":-14.5},{"s":"DYN","f":28.5,"v":-17.1},{"s":"DYN","f":29.7,"v":-15.0},{"s":"DYN","f":31.1,"v":-17.7},{"s":"DYN","f":32.4,"v":-14.5},{"s":"DYN","f":33.8,"v":-17.1},{"s":"DYN","f":35,"v":-16.6},{"s":"DYN","f":36.5,"v":-18.2},{"s":"DYN","f":37.7,"v":-19.8},{"s":"DYN","f":39.1,"v":-18.2},{"s":"DYN","f":40.4,"v":-20.8},{"s":"DYN","f":41.8,"v":-17.1},{"s":"DYN","f":43.1,"v":-20.3},{"s":"DYN","f":44.5,"v":-18.7},{"s":"DYN","f":45.7,"v":-22.4},{"s":"DYN","f":47.2,"v":-20.3},{"s":"DYN","f":48.4,"v":-21.9},{"s":"DYN","f":49.8,"v":-19.2},{"s":"DYN","f":51.1,"v":-21.3},{"s":"DYN","f":52.5,"v":-20.3},{"s":"DYN","f":53.7,"v":-22.9},{"s":"DYN","f":55.2,"v":-20.8},{"s":"DYN","f":56.4,"v":-22.4},{"s":"DYN","f":57.8,"v":-20.3},{"s":"DYN","f":59.1,"v":-22.9},{"s":"DYN","f":60.5,"v":-19.8},{"s":"DYN","f":61.7,"v":-22.4},{"s":"DYN","f":63.2,"v":-21.3},{"s":"DYN","f":64.4,"v":-25.0},{"s":"DYN","f":65.8,"v":-22.4},{"s":"DYN","f":67.1,"v":-24.0},{"s":"DYN","f":68.5,"v":-21.9},{"s":"DYN","f":69.8,"v":-24.0},{"s":"DYN","f":71.2,"v":-22.4},{"s":"DYN","f":72.4,"v":-24.5},{"s":"DYN","f":73.8,"v":-24.0},{"s":"DYN","f":75.1,"v":-27.6},{"s":"DYN","f":76.5,"v":-25.0},{"s":"DYN","f":77.8,"v":-26.6},{"s":"DYN","f":79.2,"v":-24.5},{"s":"DYN","f":80.4,"v":-27.1},{"s":"DYN","f":81.9,"v":-25.5},{"s":"DYN","f":83.1,"v":-28.7},{"s":"DYN","f":84.5,"v":-26.0},{"s":"DYN","f":85.8,"v":-28.7},{"s":"DYN","f":87.2,"v":-26.6},{"s":"DYN","f":88.4,"v":-28.1},{"s":"DYN","f":89.9,"v":-25.5},{"s":"DYN","f":91.1,"v":-28.1},{"s":"DYN","f":92.5,"v":-26.6},{"s":"DYN","f":93.8,"v":-28.7},{"s":"DYN","f":95.2,"v":-27.1},{"s":"DYN","f":96.4,"v":-30.8},{"s":"DYN","f":97.9,"v":-27.6},{"s":"DYN","f":99.1,"v":-29.2},{"s":"DYN","f":100.5,"v":-27.1},{"s":"DYN","f":101.8,"v":-29.2},{"s":"DYN","f":103.2,"v":-27.6},{"s":"DYN","f":104.4,"v":-29.7},{"s":"DYN","f":105.9,"v":-28.7},{"s":"DYN","f":107.1,"v":-30.8},{"s":"DYN","f":108.5,"v":-28.7},{"s":"DYN","f":109.8,"v":-29.7},{"s":"DYN","f":111.2,"v":-28.1},{"s":"DYN","f":112.5,"v":-30.2},{"s":"DYN","f":113.9,"v":-28.7},{"s":"DYN","f":115.1,"v":-32.3},{"s":"DYN","f":116.5,"v":-29.7},{"s":"DYN","f":117.8,"v":-30.8},{"s":"DYN","f":119.2,"v":-27.6},{"s":"DYN","f":120.5,"v":-29.7},{"s":"DYN","f":121.9,"v":-28.7},{"s":"DYN","f":123.1,"v":-30.8},{"s":"DYN","f":125,"v":-30.2},{"s":"DYN","f":126.8,"v":-31.8},{"s":"DYN","f":128.6,"v":-29.7},{"s":"DYN","f":130.3,"v":-30.8},{"s":"DYN","f":132.1,"v":-29.2},{"s":"DYN","f":133.9,"v":-27.1},{"s":"DYN","f":135.7,"v":-31.3},{"s":"DYN","f":137.5,"v":-32.3},{"s":"DYN","f":139.2,"v":-30.2},{"s":"DYN","f":141,"v":-32.9},{"s":"DYN","f":142.8,"v":-31.3},{"s":"DYN","f":144.6,"v":-33.9},{"s":"DYN","f":146.4,"v":-31.8},{"s":"DYN","f":148.1,"v":-33.4},{"s":"DYN","f":149.9,"v":-35.5},{"s":"DYN","f":151.7,"v":-32.3},{"s":"DYN","f":153.5,"v":-34.4},{"s":"DYN","f":155.2,"v":-31.8},{"s":"DYN","f":157,"v":-33.9},{"s":"DYN","f":158.8,"v":-31.8},{"s":"DYN","f":160.6,"v":-33.4},{"s":"DYN","f":162.4,"v":-30.8},{"s":"DYN","f":164.1,"v":-32.9},{"s":"DYN","f":165.9,"v":-30.2},{"s":"DYN","f":167.7,"v":-32.9},{"s":"DYN","f":169.5,"v":-29.7},{"s":"DYN","f":171.3,"v":-30.8},{"s":"DYN","f":173,"v":-29.2},{"s":"DYN","f":174.8,"v":-30.2},{"s":"DYN","f":176.6,"v":-32.9},{"s":"DYN","f":177.8,"v":-38.1},{"s":"DYN","f":179.3,"v":-35.0},{"s":"DYN","f":181,"v":-37.1},{"s":"DYN","f":182.8,"v":-33.9},{"s":"DYN","f":184.6,"v":-36.0},{"s":"DYN","f":186.4,"v":-35.0},{"s":"DYN","f":188.2,"v":-36.5},{"s":"DYN","f":189.9,"v":-33.9},{"s":"DYN","f":191.7,"v":-35.5},{"s":"DYN","f":193.5,"v":-34.4},{"s":"DYN","f":195.3,"v":-36.5},{"s":"DYN","f":197.1,"v":-35.0},{"s":"DYN","f":198.8,"v":-37.6},{"s":"DYN","f":200.6,"v":-36.0},{"s":"DYN","f":202.4,"v":-38.1},{"s":"DYN","f":204.2,"v":-35.5},{"s":"DYN","f":206,"v":-37.1},{"s":"DYN","f":207.7,"v":-35.0},{"s":"DYN","f":209.5,"v":-37.6},{"s":"DYN","f":211.3,"v":-36.0},{"s":"DYN","f":213.1,"v":-39.2},{"s":"DYN","f":214.9,"v":-37.1},{"s":"DYN","f":216.6,"v":-40.2},{"s":"DYN","f":218.4,"v":-37.6},{"s":"DYN","f":220.2,"v":-39.2},{"s":"DYN","f":222,"v":-36.0},{"s":"DYN","f":223.8,"v":-38.6},{"s":"DYN","f":225.5,"v":-37.1},{"s":"DYN","f":227.3,"v":-39.7},{"s":"DYN","f":229.1,"v":-37.6},{"s":"DYN","f":230.9,"v":-39.2},{"s":"DYN","f":232.7,"v":-37.6},{"s":"DYN","f":234.4,"v":-40.2},{"s":"DYN","f":236.2,"v":-38.1},{"s":"DYN","f":238,"v":-41.2},{"s":"DYN","f":239.8,"v":-37.1},{"s":"DYN","f":241.5,"v":-39.2},{"s":"DYN","f":243.3,"v":-36.5},{"s":"DYN","f":245.1,"v":-39.2},{"s":"DYN","f":246.9,"v":-37.1},{"s":"DYN","f":248.7,"v":-39.7},{"s":"DYN","f":250.4,"v":-37.1},{"s":"DYN","f":252.2,"v":-38.6}
],
"f": [
{"s":"HV","f":0,"v":-23.5},{"s":"HV","f":0.9,"v":-23.4},{"s":"HV","f":2.6,"v":-21.5},{"s":"HV","f":4.4,"v":-20.1},{"s":"HV","f":6.1,"v":-13.5},{"s":"HV","f":7,"v":-6.4},{"s":"HV","f":8.2,"v":-2.1},{"s":"HV","f":9.6,"v":-1.7},{"s":"HV","f":11.4,"v":-4.0},{"s":"HV","f":13.2,"v":-7.8},{"s":"HV","f":14.4,"v":-10.2},{"s":"HV","f":14.9,"v":-0.7},{"s":"HV","f":16,"v":-5.9},{"s":"HV","f":17,"v":-2.1},{"s":"HV","f":18.1,"v":-6.4},{"s":"HV","f":19.3,"v":0},{"s":"HV","f":20.2,"v":-5.0},{"s":"HV","f":21.2,"v":-2.1},{"s":"HV","f":22.3,"v":-7.8},{"s":"HV","f":23.3,"v":-3.5},{"s":"HV","f":24.6,"v":-9.7},{"s":"HV","f":25.8,"v":-4.5},{"s":"HV","f":26.8,"v":-11.1},{"s":"HV","f":28.1,"v":-7.3},{"s":"HV","f":29.3,"v":-12.5},{"s":"HV","f":30.4,"v":-8.7},{"s":"HV","f":31.6,"v":-13.9},{"s":"HV","f":32.8,"v":-10.2},{"s":"HV","f":33.9,"v":-14.4},{"s":"HV","f":34.9,"v":-6.4},{"s":"HV","f":36,"v":-14.9},{"s":"HV","f":37.4,"v":-11.6},{"s":"HV","f":38.6,"v":-15.8},{"s":"HV","f":39.8,"v":-12.1},{"s":"HV","f":41.2,"v":-16.3},{"s":"HV","f":42.6,"v":-13.0},{"s":"HV","f":43.9,"v":-17.3},{"s":"HV","f":45.1,"v":-13.5},{"s":"HV","f":46.5,"v":-18.2},{"s":"HV","f":47.9,"v":-14.4},{"s":"HV","f":49.1,"v":-19.1},{"s":"HV","f":50.4,"v":-13.9},{"s":"HV","f":51.8,"v":-16.8},{"s":"HV","f":53.2,"v":-10.6},{"s":"HV","f":54.4,"v":-15.8},{"s":"HV","f":55.8,"v":-11.6},{"s":"HV","f":57,"v":-16.8},{"s":"HV","f":58.4,"v":-13.5},{"s":"HV","f":59.6,"v":-17.3},{"s":"HV","f":61.1,"v":-13.9},{"s":"HV","f":62.3,"v":-17.7},{"s":"HV","f":63.7,"v":-14.4},{"s":"HV","f":64.9,"v":-17.7},{"s":"HV","f":66.3,"v":-14.9},{"s":"HV","f":67.5,"v":-18.2},{"s":"HV","f":68.9,"v":-15.4},{"s":"HV","f":70.2,"v":-18.2},{"s":"HV","f":71.6,"v":-15.8},{"s":"HV","f":72.8,"v":-18.7},{"s":"HV","f":74.2,"v":-15.4},{"s":"HV","f":75.4,"v":-18.7},{"s":"HV","f":76.8,"v":-16.3},{"s":"HV","f":78.1,"v":-18.7},{"s":"HV","f":79.5,"v":-16.8},{"s":"HV","f":80.7,"v":-19.1},{"s":"HV","f":82.1,"v":-16.8},{"s":"HV","f":83.3,"v":-19.1},{"s":"HV","f":84.7,"v":-15.8},{"s":"HV","f":86,"v":-19.1},{"s":"HV","f":87.4,"v":-16.8},{"s":"HV","f":88.6,"v":-19.1},{"s":"HV","f":90,"v":-17.3},{"s":"HV","f":91.2,"v":-19.6},{"s":"HV","f":92.6,"v":-15.8},{"s":"HV","f":93.9,"v":-19.6},{"s":"HV","f":95.3,"v":-17.7},{"s":"HV","f":96.5,"v":-20.1},{"s":"HV","f":97.9,"v":-18.2},{"s":"HV","f":99.1,"v":-20.1},{"s":"HV","f":100.5,"v":-18.2},{"s":"HV","f":101.8,"v":-20.6},{"s":"HV","f":103.2,"v":-18.7},{"s":"HV","f":104.4,"v":-20.6},{"s":"HV","f":105.8,"v":-19.1},{"s":"HV","f":107,"v":-21.0},{"s":"HV","f":108.4,"v":-19.1},{"s":"HV","f":109.6,"v":-21.0},{"s":"HV","f":111,"v":-19.6},{"s":"HV","f":112.3,"v":-21.5},{"s":"HV","f":113.7,"v":-20.1},{"s":"HV","f":114.9,"v":-22.0},{"s":"HV","f":116.3,"v":-20.1},{"s":"HV","f":117.5,"v":-22.0},{"s":"HV","f":118.9,"v":-20.6},{"s":"HV","f":120.2,"v":-22.0},{"s":"HV","f":121.6,"v":-20.1},{"s":"HV","f":122.8,"v":-21.5},{"s":"HV","f":123.9,"v":-20.1},{"s":"HV","f":125.6,"v":-22.0},{"s":"HV","f":127,"v":-21.0},{"s":"HV","f":128.2,"v":-24.8},{"s":"HV","f":130,"v":-27.2},{"s":"HV","f":131.7,"v":-26.2},{"s":"HV","f":133.5,"v":-28.6},{"s":"HV","f":135.3,"v":-27.2},{"s":"HV","f":137,"v":-29.1},{"s":"HV","f":138.8,"v":-27.2},{"s":"HV","f":140.5,"v":-28.6},{"s":"HV","f":142.3,"v":-27.7},{"s":"HV","f":144,"v":-29.6},{"s":"HV","f":145.8,"v":-27.7},{"s":"HV","f":147.5,"v":-30.0},{"s":"HV","f":149.3,"v":-28.1},{"s":"HV","f":151.1,"v":-29.6},{"s":"HV","f":152.8,"v":-28.6},{"s":"HV","f":154.6,"v":-30.5},{"s":"HV","f":156.3,"v":-28.6},{"s":"HV","f":158.1,"v":-30.0},{"s":"HV","f":159.8,"v":-28.6},{"s":"HV","f":161.6,"v":-30.5},{"s":"HV","f":163.3,"v":-29.1},{"s":"HV","f":165.1,"v":-31.0},{"s":"HV","f":166.8,"v":-29.6},{"s":"HV","f":168.6,"v":-30.5},{"s":"HV","f":170.3,"v":-29.1},{"s":"HV","f":172.1,"v":-31.4},{"s":"HV","f":173.9,"v":-30.0},{"s":"HV","f":175.6,"v":-31.9},{"s":"HV","f":177.4,"v":-30.0},{"s":"HV","f":179.1,"v":-31.4},{"s":"HV","f":180.9,"v":-29.6},{"s":"HV","f":182.6,"v":-31.0},{"s":"HV","f":184.4,"v":-29.6},{"s":"HV","f":186.1,"v":-31.4},{"s":"HV","f":187.9,"v":-30.0},{"s":"HV","f":189.6,"v":-31.4},{"s":"HV","f":191.4,"v":-30.0},{"s":"HV","f":193.1,"v":-31.9},{"s":"HV","f":194.9,"v":-30.5},{"s":"HV","f":196.7,"v":-31.4},{"s":"HV","f":198.4,"v":-30.0},{"s":"HV","f":200.2,"v":-31.4},{"s":"HV","f":201.9,"v":-30.5},{"s":"HV","f":203.7,"v":-32.4},{"s":"HV","f":205.4,"v":-31.0},{"s":"HV","f":207.2,"v":-33.3},{"s":"HV","f":208.9,"v":-31.4},{"s":"HV","f":210.7,"v":-32.4},{"s":"HV","f":212.5,"v":-30.5},{"s":"HV","f":214.2,"v":-31.9},{"s":"HV","f":216,"v":-30.0},{"s":"HV","f":217.7,"v":-31.9},{"s":"HV","f":219.5,"v":-30.5},{"s":"HV","f":221.2,"v":-31.9},{"s":"HV","f":223,"v":-30.0},{"s":"HV","f":224.7,"v":-31.9},{"s":"HV","f":226.5,"v":-30.5},{"s":"HV","f":228.2,"v":-32.4},{"s":"HV","f":230,"v":-30.5},{"s":"HV","f":231.8,"v":-31.9},{"s":"HV","f":233.5,"v":-30.5},{"s":"HV","f":235.3,"v":-32.4},{"s":"HV","f":237,"v":-31.0},{"s":"HV","f":238.8,"v":-32.9},{"s":"HV","f":240.5,"v":-31.0},{"s":"HV","f":242.3,"v":-32.4},{"s":"HV","f":244,"v":-30.5},{"s":"HV","f":245.8,"v":-32.9},{"s":"HV","f":247.5,"v":-30.5},{"s":"HV","f":248.8,"v":-32.4},{"s":"HV","f":250.2,"v":-31.4},{"s":"HV","f":252.5,"v":-32.6},
{"s":"DYN","f":0,"v":-22.5},{"s":"DYN","f":0.9,"v":-22.0},{"s":"DYN","f":2.3,"v":-19.6},{"s":"DYN","f":3.5,"v":-13.5},{"s":"DYN","f":4.7,"v":-5.0},{"s":"DYN","f":6.1,"v":-1.2},{"s":"DYN","f":7.5,"v":0},{"s":"DYN","f":8.9,"v":-0.7},{"s":"DYN","f":10.5,"v":-3.5},{"s":"DYN","f":12.3,"v":-7.3},{"s":"DYN","f":14,"v":-10.2},{"s":"DYN","f":15.3,"v":-12.5},{"s":"DYN","f":16.7,"v":-12.1},{"s":"DYN","f":18.1,"v":-14.4},{"s":"DYN","f":19.3,"v":-13.5},{"s":"DYN","f":20.5,"v":-15.4},{"s":"DYN","f":21.9,"v":-14.4},{"s":"DYN","f":23.3,"v":-16.3},{"s":"DYN","f":24.6,"v":-14.9},{"s":"DYN","f":25.8,"v":-16.8},{"s":"DYN","f":27.2,"v":-16.3},{"s":"DYN","f":28.6,"v":-18.2},{"s":"DYN","f":29.8,"v":-19.1},{"s":"DYN","f":31.1,"v":-18.2},{"s":"DYN","f":32.5,"v":-20.1},{"s":"DYN","f":33.9,"v":-20.6},{"s":"DYN","f":35.1,"v":-19.6},{"s":"DYN","f":36.3,"v":-21.0},{"s":"DYN","f":37.7,"v":-20.1},{"s":"DYN","f":39.1,"v":-21.5},{"s":"DYN","f":40.4,"v":-20.6},{"s":"DYN","f":41.6,"v":-22.0},{"s":"DYN","f":43,"v":-21.0},{"s":"DYN","f":44.4,"v":-22.5},{"s":"DYN","f":45.6,"v":-20.1},{"s":"DYN","f":46.5,"v":-14.9},{"s":"DYN","f":47.4,"v":-22.0},{"s":"DYN","f":48.6,"v":-21.0},{"s":"DYN","f":50,"v":-22.9},{"s":"DYN","f":51.4,"v":-21.5},{"s":"DYN","f":52.6,"v":-22.9},{"s":"DYN","f":53.9,"v":-21.0},{"s":"DYN","f":55.3,"v":-23.4},{"s":"DYN","f":56.7,"v":-21.5},{"s":"DYN","f":57.9,"v":-22.9},{"s":"DYN","f":59.1,"v":-20.6},{"s":"DYN","f":60.2,"v":-17.3},{"s":"DYN","f":61.2,"v":-21.5},{"s":"DYN","f":62.6,"v":-22.5},{"s":"DYN","f":64,"v":-21.0},{"s":"DYN","f":65.4,"v":-22.0},{"s":"DYN","f":66.8,"v":-18.7},{"s":"DYN","f":68.1,"v":-21.5},{"s":"DYN","f":69.3,"v":-20.6},{"s":"DYN","f":70.7,"v":-22.0},{"s":"DYN","f":72.1,"v":-21.0},{"s":"DYN","f":73.5,"v":-21.5},{"s":"DYN","f":74.9,"v":-22.5},{"s":"DYN","f":76.3,"v":-21.5},{"s":"DYN","f":77.7,"v":-22.9},{"s":"DYN","f":79.1,"v":-22.5},{"s":"DYN","f":80.5,"v":-23.4},{"s":"DYN","f":81.9,"v":-22.9},{"s":"DYN","f":83.3,"v":-24.8},{"s":"DYN","f":84.7,"v":-22.9},{"s":"DYN","f":86.1,"v":-22.0},{"s":"DYN","f":87.5,"v":-23.4},{"s":"DYN","f":88.9,"v":-22.0},{"s":"DYN","f":90.4,"v":-22.9},{"s":"DYN","f":91.8,"v":-21.5},{"s":"DYN","f":93.2,"v":-22.9},{"s":"DYN","f":94.6,"v":-22.5},{"s":"DYN","f":96,"v":-23.9},{"s":"DYN","f":97.4,"v":-22.0},{"s":"DYN","f":98.8,"v":-22.5},{"s":"DYN","f":100.2,"v":-21.5},{"s":"DYN","f":101.6,"v":-22.9},{"s":"DYN","f":103,"v":-22.0},{"s":"DYN","f":104.4,"v":-22.9},{"s":"DYN","f":105.8,"v":-22.5},{"s":"DYN","f":107.2,"v":-23.9},{"s":"DYN","f":108.6,"v":-22.9},{"s":"DYN","f":110,"v":-24.3},{"s":"DYN","f":111.4,"v":-22.9},{"s":"DYN","f":112.8,"v":-23.4},{"s":"DYN","f":114.2,"v":-22.5},{"s":"DYN","f":115.6,"v":-23.9},{"s":"DYN","f":117,"v":-22.9},{"s":"DYN","f":118.4,"v":-23.4},{"s":"DYN","f":119.8,"v":-22.5},{"s":"DYN","f":121.2,"v":-22.9},{"s":"DYN","f":122.8,"v":-21.5},{"s":"DYN","f":123.9,"v":-23.9},{"s":"DYN","f":125.6,"v":-22.5},{"s":"DYN","f":127.4,"v":-23.9},{"s":"DYN","f":129.1,"v":-24.8},{"s":"DYN","f":130.9,"v":-23.4},{"s":"DYN","f":132.6,"v":-24.8},{"s":"DYN","f":134.4,"v":-23.9},{"s":"DYN","f":136.1,"v":-22.5},{"s":"DYN","f":137.9,"v":-25.3},{"s":"DYN","f":139.6,"v":-24.4},{"s":"DYN","f":141.4,"v":-25.8},{"s":"DYN","f":143.2,"v":-24.8},{"s":"DYN","f":144.9,"v":-26.2},{"s":"DYN","f":146.7,"v":-25.3},{"s":"DYN","f":148.4,"v":-26.7},{"s":"DYN","f":150.2,"v":-25.8},{"s":"DYN","f":151.9,"v":-27.2},{"s":"DYN","f":153.7,"v":-26.2},{"s":"DYN","f":155.4,"v":-27.2},{"s":"DYN","f":157.2,"v":-24.8},{"s":"DYN","f":158.9,"v":-23.9},{"s":"DYN","f":160.7,"v":-26.7},{"s":"DYN","f":162.5,"v":-25.3},{"s":"DYN","f":164.2,"v":-27.2},{"s":"DYN","f":166,"v":-25.8},{"s":"DYN","f":167.7,"v":-27.2},{"s":"DYN","f":169.5,"v":-26.2},{"s":"DYN","f":171.2,"v":-28.1},{"s":"DYN","f":173,"v":-26.7},{"s":"DYN","f":174.7,"v":-25.3},{"s":"DYN","f":176.5,"v":-27.2},{"s":"DYN","f":178.2,"v":-26.2},{"s":"DYN","f":180,"v":-28.1},{"s":"DYN","f":181.7,"v":-26.7},{"s":"DYN","f":183.5,"v":-28.6},{"s":"DYN","f":185.3,"v":-27.2},{"s":"DYN","f":187,"v":-29.6},{"s":"DYN","f":188.8,"v":-27.7},{"s":"DYN","f":190.5,"v":-29.1},{"s":"DYN","f":192.3,"v":-26.7},{"s":"DYN","f":194,"v":-28.1},{"s":"DYN","f":195.8,"v":-25.8},{"s":"DYN","f":197.5,"v":-27.2},{"s":"DYN","f":199.3,"v":-25.8},{"s":"DYN","f":201,"v":-27.7},{"s":"DYN","f":202.8,"v":-28.6},{"s":"DYN","f":204.6,"v":-29.6},{"s":"DYN","f":206.3,"v":-28.6},{"s":"DYN","f":208.1,"v":-30.5},{"s":"DYN","f":209.8,"v":-31.4},{"s":"DYN","f":211.6,"v":-30.0},{"s":"DYN","f":213.3,"v":-31.9},{"s":"DYN","f":215.1,"v":-33.3},{"s":"DYN","f":216.8,"v":-32.4},{"s":"DYN","f":218.6,"v":-35.2},{"s":"DYN","f":220.3,"v":-33.3},{"s":"DYN","f":222.1,"v":-34.8},{"s":"DYN","f":223.9,"v":-33.8},{"s":"DYN","f":225.6,"v":-35.7},{"s":"DYN","f":227.4,"v":-34.3},{"s":"DYN","f":229.1,"v":-35.7},{"s":"DYN","f":230.9,"v":-33.8},{"s":"DYN","f":232.6,"v":-35.2},{"s":"DYN","f":234.4,"v":-34.3},{"s":"DYN","f":236.1,"v":-35.7},{"s":"DYN","f":237.9,"v":-34.3},{"s":"DYN","f":239.6,"v":-36.2},{"s":"DYN","f":241.4,"v":-34.3},{"s":"DYN","f":243.2,"v":-35.7},{"s":"DYN","f":244.9,"v":-34.3},{"s":"DYN","f":246.7,"v":-36.2},{"s":"DYN","f":248.4,"v":-34.8},{"s":"DYN","f":250.2,"v":-35.7},{"s":"DYN","f":252.5,"v":-35.0}
]
},
"concat": [
{
 "width": 472, "height": 280,
 "title": {"text": "a", "orient": "bottom", "dx": -21, "offset": 16},
 "resolve": {"axis": {"x": "independent", "y": "independent"}},
 "layer": [
  {"data": {"name": "a"}, "mark": {"type": "line", "strokeWidth": 2},
   "encoding": {
    "x": {"field": "f", "type": "quantitative", "scale": {"domain": [0, 254], "nice": false, "zero": false}, "axis": {"title": "Frequency (Hz)", "values": [0,50,100,150,200,250], "labelExpr": "'' + datum.value"}},
    "y": {"field": "v", "type": "quantitative", "scale": {"domain": [-35, 0], "nice": false, "zero": false}, "axis": {"title": "Decibels", "values": [-35,-30,-25,-20,-15,-10,-5,0], "labelExpr": "'' + datum.value"}},
    "color": {"field": "s", "type": "nominal", "scale": {"domain": ["HV","DYN"], "range": ["#1c1ce8","#178a17"]}, "legend": {"title": null, "labelExpr": "datum.value == 'HV' ? 'HEAVY VIBE' : 'DYNAMITE'"}}
   }},
  {"data": {"name": "a"}, "mark": {"type": "point", "opacity": 0},
   "encoding": {
    "x": {"field": "f", "type": "quantitative", "scale": {"domain": [0, 254], "nice": false, "zero": false}, "axis": {"orient": "top", "title": "DYN-HV: DATA WINDOW ANALYSIS", "values": [0,50,100,150,200,250]}},
    "y": {"field": "v", "type": "quantitative", "scale": {"domain": [-35, 0], "nice": false, "zero": false}, "axis": {"orient": "right", "title": null, "values": [-35,-30,-25,-20,-15,-10,-5,0]}}
   }},
  {"data": {"values": [{"x1": 0, "x2": 254, "y1": -20.5, "y2": -20.9}]},
   "mark": {"type": "rule", "color": "#ee1111", "strokeWidth": 5.5, "strokeDash": [6, 7]},
   "encoding": {"x": {"field": "x1", "type": "quantitative", "axis": null}, "x2": {"field": "x2"}, "y": {"field": "y1", "type": "quantitative", "axis": null}, "y2": {"field": "y2"}}},
  {"data": {"values": [{"x1": 137.2, "y1": -17.0, "x2": 106, "y2": -19.75}]},
   "mark": {"type": "rule", "color": "#111", "strokeWidth": 1.3},
   "encoding": {"x": {"field": "x1", "type": "quantitative", "axis": null}, "x2": {"field": "x2"}, "y": {"field": "y1", "type": "quantitative", "axis": null}, "y2": {"field": "y2"}}},
  {"data": {"values": [{"x": 106, "y": -19.75}]},
   "mark": {"type": "point", "shape": "triangle", "filled": true, "color": "#000", "opacity": 1, "size": 110, "angle": 249},
   "encoding": {"x": {"field": "x", "type": "quantitative", "axis": null}, "y": {"field": "y", "type": "quantitative", "axis": null}}},
  {"data": {"values": [{"x": 122.7, "y": -15.4, "t": "Corner frequency"}]},
   "mark": {"type": "text", "align": "left", "baseline": "middle", "font": "Liberation Sans", "fontSize": 23.5, "color": "#000"},
   "encoding": {"x": {"field": "x", "type": "quantitative", "axis": null}, "y": {"field": "y", "type": "quantitative", "axis": null}, "text": {"field": "t"}}}
 ]
},
{
 "width": 477, "height": 280,
 "title": {"text": "b", "orient": "bottom", "dx": -8, "offset": 16},
 "resolve": {"axis": {"x": "independent", "y": "independent"}},
 "layer": [
  {"data": {"name": "b"}, "mark": {"type": "line", "strokeWidth": 2},
   "encoding": {
    "x": {"field": "f", "type": "quantitative", "scale": {"domain": [0, 254], "nice": false, "zero": false}, "axis": {"title": "Frequency (Hz)", "values": [0,50,100,150,200,250], "labelExpr": "'' + datum.value"}},
    "y": {"field": "v", "type": "quantitative", "scale": {"domain": [-30, 0], "nice": false, "zero": false}, "axis": {"title": "Decibels", "values": [-30,-25,-20,-15,-10,-5,0], "labelExpr": "'' + datum.value"}},
    "color": {"field": "s", "type": "nominal", "scale": {"domain": ["HV","DYN"], "range": ["#1c1ce8","#178a17"]}, "legend": {"title": null, "labelExpr": "datum.value == 'HV' ? 'HEAVY VIBE' : 'DYNAMITE'"}}
   }},
  {"data": {"name": "b"}, "mark": {"type": "point", "opacity": 0},
   "encoding": {
    "x": {"field": "f", "type": "quantitative", "scale": {"domain": [0, 254], "nice": false, "zero": false}, "axis": {"orient": "top", "title": "RADIAL COMPONENT DYN-HV: DATA WINDOW ANALYSIS", "values": [0,50,100,150,200,250]}},
    "y": {"field": "v", "type": "quantitative", "scale": {"domain": [-30, 0], "nice": false, "zero": false}, "axis": {"orient": "right", "title": null, "values": [-30,-25,-20,-15,-10,-5,0]}}
   }},
  {"data": {"values": [{"x1": 3, "x2": 257, "y1": -14.6, "y2": -15.1}]},
   "mark": {"type": "rule", "color": "#ee1111", "strokeWidth": 5.5, "strokeDash": [6, 7]},
   "encoding": {"x": {"field": "x1", "type": "quantitative", "axis": null}, "x2": {"field": "x2"}, "y": {"field": "y1", "type": "quantitative", "axis": null}, "y2": {"field": "y2"}}},
  {"data": {"values": [{"x1": 0, "x2": 244, "y1": -20.6, "y2": -20.6}]},
   "mark": {"type": "rule", "color": "#0b2a5c", "strokeWidth": 6, "strokeDash": [23, 19]},
   "encoding": {"x": {"field": "x1", "type": "quantitative", "axis": null}, "x2": {"field": "x2"}, "y": {"field": "y1", "type": "quantitative", "axis": null}, "y2": {"field": "y2"}}},
  {"data": {"values": [{"x1": 107.6, "y1": -7.8, "x2": 53.4, "y2": -12.6}, {"x1": 104.9, "y1": -8.5, "x2": 68.5, "y2": -16.75}]},
   "mark": {"type": "rule", "color": "#111", "strokeWidth": 1.3},
   "encoding": {"x": {"field": "x1", "type": "quantitative", "axis": null}, "x2": {"field": "x2"}, "y": {"field": "y1", "type": "quantitative", "axis": null}, "y2": {"field": "y2"}}},
  {"data": {"values": [{"x": 53.4, "y": -12.6}]},
   "mark": {"type": "point", "shape": "triangle", "filled": true, "color": "#000", "opacity": 1, "size": 110, "angle": 246},
   "encoding": {"x": {"field": "x", "type": "quantitative", "axis": null}, "y": {"field": "y", "type": "quantitative", "axis": null}}},
  {"data": {"values": [{"x": 68.5, "y": -16.75}]},
   "mark": {"type": "point", "shape": "triangle", "filled": true, "color": "#000", "opacity": 1, "size": 110, "angle": 222},
   "encoding": {"x": {"field": "x", "type": "quantitative", "axis": null}, "y": {"field": "y", "type": "quantitative", "axis": null}}},
  {"data": {"values": [{"x": 108.6, "y": -7.6, "t": "Corner frequencies"}, {"x": 159.7, "y": -13.4, "t": "noise level line for HV"}, {"x": 160.8, "y": -19.3, "t": "noise level line for Dyn"}]},
   "mark": {"type": "text", "align": "left", "baseline": "middle", "font": "Liberation Sans", "fontSize": 23.5, "color": "#000"},
   "encoding": {"x": {"field": "x", "type": "quantitative", "axis": null}, "y": {"field": "y", "type": "quantitative", "axis": null}, "text": {"field": "t"}}}
 ]
},
{
 "width": 472, "height": 281,
 "title": {"text": "c", "orient": "bottom", "dx": -19, "offset": 3},
 "resolve": {"axis": {"x": "independent", "y": "independent"}},
 "layer": [
  {"data": {"name": "c"}, "mark": {"type": "line", "strokeWidth": 2},
   "encoding": {
    "x": {"field": "f", "type": "quantitative", "scale": {"domain": [0, 254], "nice": false, "zero": false}, "axis": {"title": "Frequency (Hz)", "values": [0,50,100,150,200,250], "labelExpr": "'' + datum.value"}},
    "y": {"field": "v", "type": "quantitative", "scale": {"domain": [-35, 0], "nice": false, "zero": false}, "axis": {"title": "Decibels", "values": [-35,-30,-25,-20,-15,-10,-5,0], "labelExpr": "'' + datum.value"}},
    "color": {"field": "s", "type": "nominal", "scale": {"domain": ["HV","DYN"], "range": ["#1c1ce8","#178a17"]}, "legend": {"title": null, "labelExpr": "datum.value == 'HV' ? 'HEAVY VIBE' : 'DYNAMITE'"}}
   }},
  {"data": {"name": "c"}, "mark": {"type": "point", "opacity": 0},
   "encoding": {
    "x": {"field": "f", "type": "quantitative", "scale": {"domain": [0, 254], "nice": false, "zero": false}, "axis": {"orient": "top", "title": "DYN-HV: FIRST BREAK WINDOW ANALYSIS", "values": [0,50,100,150,200,250]}},
    "y": {"field": "v", "type": "quantitative", "scale": {"domain": [-35, 0], "nice": false, "zero": false}, "axis": {"orient": "right", "title": null, "values": [-35,-30,-25,-20,-15,-10,-5,0]}}
   }}
 ]
},
{
 "width": 477, "height": 281,
 "title": {"text": "d", "orient": "bottom", "dx": -8, "offset": 3},
 "resolve": {"axis": {"x": "independent", "y": "independent"}},
 "layer": [
  {"data": {"name": "d"}, "mark": {"type": "line", "strokeWidth": 2},
   "encoding": {
    "x": {"field": "f", "type": "quantitative", "scale": {"domain": [0, 254], "nice": false, "zero": false}, "axis": {"title": "Frequency (Hz)", "values": [0,50,100,150,200,250], "labelExpr": "'' + datum.value"}},
    "y": {"field": "v", "type": "quantitative", "scale": {"domain": [-40, 0], "nice": false, "zero": false}, "axis": {"title": "Decibels", "values": [-40,-35,-30,-25,-20,-15,-10,-5,0], "labelExpr": "'' + datum.value"}},
    "color": {"field": "s", "type": "nominal", "scale": {"domain": ["HV","DYN"], "range": ["#1c1ce8","#178a17"]}, "legend": {"title": null, "labelExpr": "datum.value == 'HV' ? 'HEAVY VIBE' : 'DYNAMITE'"}}
   }},
  {"data": {"name": "d"}, "mark": {"type": "point", "opacity": 0},
   "encoding": {
    "x": {"field": "f", "type": "quantitative", "scale": {"domain": [0, 254], "nice": false, "zero": false}, "axis": {"orient": "top", "title": "RADIAL COMPONENT DYN-HV: FIRST BREAK WINDOW ANALYSIS", "values": [0,50,100,150,200,250]}},
    "y": {"field": "v", "type": "quantitative", "scale": {"domain": [-40, 0], "nice": false, "zero": false}, "axis": {"orient": "right", "title": null, "values": [-40,-35,-30,-25,-20,-15,-10,-5,0]}}
   }}
 ]
},
{
 "width": 474, "height": 285,
 "title": {"text": "e", "orient": "bottom", "dx": -35, "offset": 1, "fontSize": 36},
 "resolve": {"axis": {"x": "independent", "y": "independent"}},
 "layer": [
  {"data": {"name": "e"}, "mark": {"type": "line", "strokeWidth": 2.2},
   "encoding": {
    "x": {"field": "f", "type": "quantitative", "scale": {"domain": [0, 253], "nice": false, "zero": false}, "axis": {"title": "Frequency (Hz)", "values": [0,50,100,150,200,250], "labelExpr": "'' + datum.value"}},
    "y": {"field": "v", "type": "quantitative", "scale": {"domain": [-45, 0], "nice": false, "zero": false}, "axis": {"title": "Decibels", "values": [-45,-40,-35,-30,-25,-20,-15,-10,-5,0], "labelExpr": "'' + datum.value"}},
    "color": {"field": "s", "type": "nominal", "scale": {"domain": ["HV","DYN"], "range": ["#1c1ce8","#178a17"]}, "legend": {"title": null, "labelExpr": "datum.value == 'HV' ? 'HEAVY VIBE' : 'DYNAMITE'"}}
   }},
  {"data": {"name": "e"}, "mark": {"type": "point", "opacity": 0},
   "encoding": {
    "x": {"field": "f", "type": "quantitative", "scale": {"domain": [0, 253], "nice": false, "zero": false}, "axis": {"orient": "top", "title": "DYN-HV NOISE WINDOW ANALYSIS", "values": [0,50,100,150,200,250]}},
    "y": {"field": "v", "type": "quantitative", "scale": {"domain": [-45, 0], "nice": false, "zero": false}, "axis": {"orient": "right", "title": null, "values": [-45,-40,-35,-30,-25,-20,-15,-10,-5,0]}}
   }}
 ]
},
{
 "width": 477, "height": 285,
 "title": {"text": "f", "orient": "bottom", "dx": -14, "offset": 1, "fontSize": 36},
 "resolve": {"axis": {"x": "independent", "y": "independent"}},
 "layer": [
  {"data": {"name": "f"}, "mark": {"type": "line", "strokeWidth": 2.2},
   "encoding": {
    "x": {"field": "f", "type": "quantitative", "scale": {"domain": [0, 253], "nice": false, "zero": false}, "axis": {"title": "Frequency (Hz)", "values": [0,50,100,150,200,250], "labelExpr": "'' + datum.value"}},
    "y": {"field": "v", "type": "quantitative", "scale": {"domain": [-40, 0], "nice": false, "zero": false}, "axis": {"title": "Decibels", "values": [-40,-35,-30,-25,-20,-15,-10,-5,0], "labelExpr": "'' + datum.value"}},
    "color": {"field": "s", "type": "nominal", "scale": {"domain": ["HV","DYN"], "range": ["#1c1ce8","#178a17"]}, "legend": {"title": null, "labelExpr": "datum.value == 'HV' ? 'HEAVY VIBE' : 'DYNAMITE'"}}
   }},
  {"data": {"name": "f"}, "mark": {"type": "point", "opacity": 0},
   "encoding": {
    "x": {"field": "f", "type": "quantitative", "scale": {"domain": [0, 253], "nice": false, "zero": false}, "axis": {"orient": "top", "title": "RADIAL COMPONENT DYN-HV NOISE WINDOW ANALYSIS", "values": [0,50,100,150,200,250]}},
    "y": {"field": "v", "type": "quantitative", "scale": {"domain": [-40, 0], "nice": false, "zero": false}, "axis": {"orient": "right", "title": null, "values": [-40,-35,-30,-25,-20,-15,-10,-5,0]}}
   }}
 ]
}
]
}
